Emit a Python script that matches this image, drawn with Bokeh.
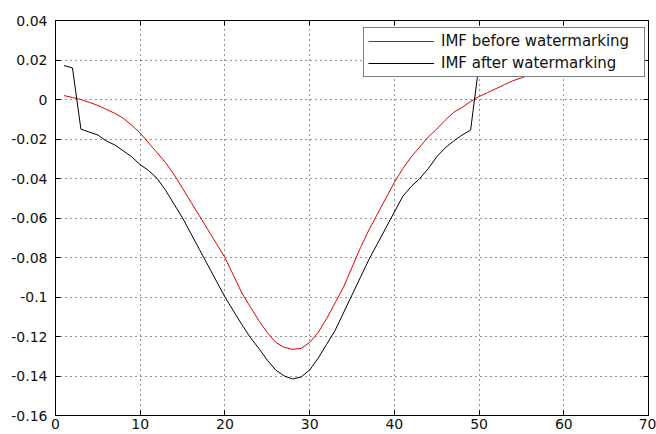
from bokeh.plotting import figure
from bokeh.models import FixedTicker, LinearAxis, Legend, LegendItem, Range1d
from bokeh.embed import file_html
from bokeh.resources import INLINE

# ---- data ----
x = list(range(1, 57))
imf_before = [0.002, 0.001, 0.0, -0.0015, -0.003, -0.005, -0.007, -0.0095, -0.013, -0.017,
              -0.022, -0.027, -0.032, -0.038, -0.045, -0.052, -0.059, -0.066, -0.073, -0.080,
              -0.089, -0.098, -0.105, -0.112, -0.118, -0.123, -0.1255, -0.1265, -0.126, -0.123,
              -0.118, -0.111, -0.103, -0.095, -0.085, -0.075, -0.066, -0.058, -0.050, -0.042,
              -0.035, -0.029, -0.024, -0.019, -0.015, -0.0105, -0.0065, -0.004, -0.001, 0.0015,
              0.0035, 0.0055, 0.0075, 0.0095, 0.011, 0.0125]
imf_after = [0.0172, 0.016, -0.015, -0.0165, -0.018, -0.021, -0.023, -0.026, -0.029, -0.033,
             -0.036, -0.040, -0.046, -0.053, -0.060, -0.068, -0.076, -0.084, -0.092, -0.100,
             -0.107, -0.114, -0.1205, -0.126, -0.132, -0.137, -0.140, -0.1415, -0.1405, -0.137,
             -0.131, -0.124, -0.117, -0.108, -0.099, -0.090, -0.081, -0.073, -0.065, -0.057,
             -0.049, -0.044, -0.040, -0.035, -0.029, -0.0245, -0.021, -0.018, -0.0155, 0.018,
             0.018, 0.0185, 0.019, 0.019, 0.0195, 0.02]
series_names = ["IMF before watermarking", "IMF after watermarking"]

x_ticks = [0, 10, 20, 30, 40, 50, 60, 70]
x_tick_labels = ["0", "10", "20", "30", "40", "50", "60", "70"]
y_ticks = [0.04, 0.02, 0, -0.02, -0.04, -0.06, -0.08, -0.1, -0.12, -0.14, -0.16]
y_tick_labels = ["0.04", "0.02", "0", "-0.02", "-0.04", "-0.06", "-0.08", "-0.1",
                 "-0.12", "-0.14", "-0.16"]

FONT = "DejaVu Sans"

p = figure(width=656, height=434, output_backend="svg", toolbar_location=None,
           x_range=Range1d(0, 70), y_range=Range1d(-0.16, 0.04),
           min_border_left=55, min_border_right=8, min_border_top=20, min_border_bottom=19)
p.background_fill_color = "white"
p.border_fill_color = "white"
p.outline_line_color = "black"
p.outline_line_width = 1

def style_axis(ax, ticks, labels, show_labels=True):
    ax.ticker = FixedTicker(ticks=ticks)
    ax.axis_line_color = "black"
    ax.major_tick_line_color = "black"
    ax.major_tick_in = 5
    ax.major_tick_out = 0
    ax.minor_tick_line_color = None
    ax.major_label_text_font = FONT
    if show_labels:
        ax.major_label_overrides = {t: l for t, l in zip(ticks, labels)}
        ax.major_label_text_color = "#111111"
        ax.major_label_text_font_size = "14px"
    else:
        ax.major_label_text_color = None
        ax.major_label_text_font_size = "1px"
        ax.major_label_standoff = 0

style_axis(p.xaxis[0], x_ticks, x_tick_labels)
p.xaxis[0].major_label_standoff = 3
style_axis(p.yaxis[0], y_ticks, y_tick_labels)
p.yaxis[0].major_label_standoff = 8

top_ax = LinearAxis()
style_axis(top_ax, x_ticks, x_tick_labels, show_labels=False)
p.add_layout(top_ax, "above")
right_ax = LinearAxis()
style_axis(right_ax, y_ticks, y_tick_labels, show_labels=False)
p.add_layout(right_ax, "right")

for g, t in ((p.xgrid[0], x_ticks), (p.ygrid[0], y_ticks)):
    g.ticker = FixedTicker(ticks=t)
    g.grid_line_color = "black"
    g.grid_line_dash = "1 4"
    g.grid_line_width = 1
    g.grid_line_alpha = 0.85

r_before = p.line(x, imf_before, line_color="#e00000", line_width=1)
r_after = p.line(x, imf_after, line_color="black", line_width=1)

legend = Legend(items=[LegendItem(label=series_names[0], renderers=[r_before]),
                       LegendItem(label=series_names[1], renderers=[r_after])],
                location=(308, 338))
legend.border_line_color = "black"
legend.border_line_width = 1
legend.background_fill_color = "white"
legend.background_fill_alpha = 1
legend.label_text_font = FONT
legend.label_text_font_size = "15px"
legend.label_text_color = "#111111"
legend.padding = 4
legend.spacing = 4
legend.margin = 0
legend.label_height = 18
legend.glyph_height = 18
legend.glyph_width = 66
legend.label_standoff = 7
legend.label_width = 199
p.add_layout(legend, "center")

open("out.html", "w").write(file_html(p, INLINE))
